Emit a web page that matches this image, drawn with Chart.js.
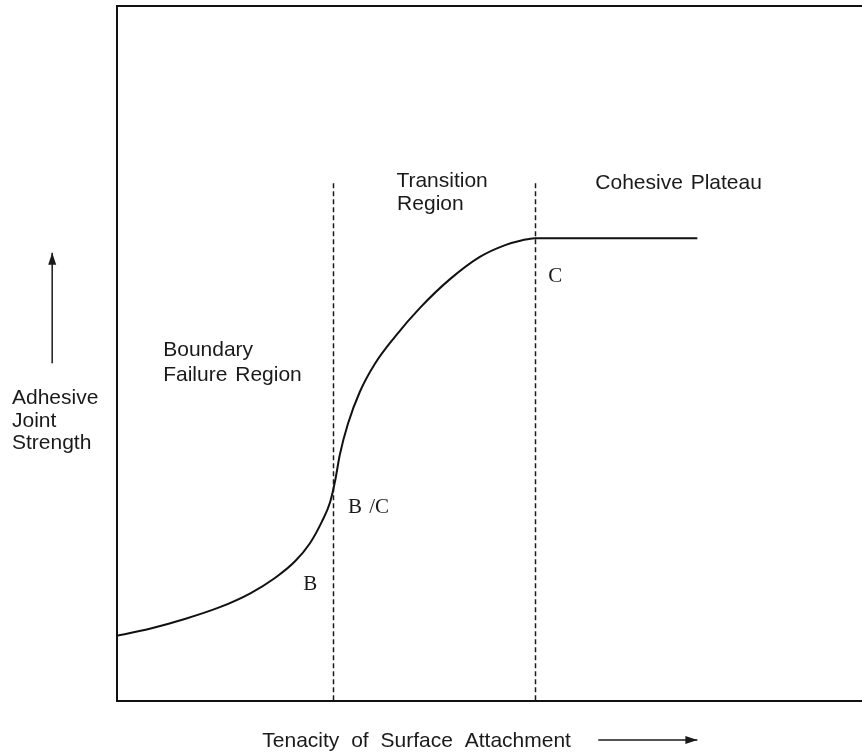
<!DOCTYPE html>
<html>
<head>
<meta charset="utf-8">
<script src="https://cdn.jsdelivr.net/npm/chart.js@4"></script>
<style>
  html, body { margin: 0; padding: 0; background: #fff; overflow: hidden; }
  #wrap { width: 862px; height: 752px; }
</style>
</head>
<body>
<div id="wrap"><canvas id="chart" width="862" height="752"></canvas></div>
<script>
// curve: tenacity (x) vs adhesive joint strength (y), arbitrary units 0..10
const tenacity = [0, 0.44, 0.91, 1.38, 1.79, 2.12, 2.39, 2.59, 2.75, 2.86, 2.93, 2.99, 3.10, 3.26, 3.46, 3.73, 4.07, 4.47, 4.87, 5.21, 5.44, 5.61, 6.48, 7.79];
const strength = [0.94, 1.04, 1.18, 1.35, 1.55, 1.77, 2.01, 2.27, 2.58, 2.86, 3.18, 3.54, 3.99, 4.45, 4.85, 5.24, 5.66, 6.07, 6.39, 6.56, 6.63, 6.66, 6.66, 6.66];

// region boundaries (dashed) and how high they reach
const boundaries = [2.90, 5.61];
const boundaryTop = 7.45;

const sans = '"Liberation Sans", Arial, Helvetica, sans-serif';
const serif = '"Liberation Serif", "Times New Roman", serif';

// text labels, placed in data units
const labels = [
    { text: 'Boundary', x: 0.62, y: 5.05, font: sans },
    { text: 'Failure Region', x: 0.62, y: 4.69, font: sans },
    { text: 'Transition', x: 3.75, y: 7.48, font: sans },
    { text: 'Region', x: 3.76, y: 7.15, font: sans },
    { text: 'Cohesive Plateau', x: 6.42, y: 7.45, font: sans },
    { text: 'C', x: 5.79, y: 6.11, font: serif },
    { text: 'B /C', x: 3.10, y: 2.79, font: serif },
    { text: 'B', x: 2.50, y: 1.68, font: serif },
    { text: 'Adhesive', x: -1.41, y: 4.35, font: sans },
    { text: 'Joint', x: -1.41, y: 4.02, font: sans },
    { text: 'Strength', x: -1.41, y: 3.71, font: sans },
    { text: 'Tenacity of Surface Attachment', x: 1.95, y: -0.58, font: sans }
];

const points = tenacity.map((x, i) => ({ x: x, y: strength[i] }));

function arrow(ctx, x1, y1, x2, y2) {
    const a = Math.atan2(y2 - y1, x2 - x1);
    ctx.beginPath();
    ctx.moveTo(x1, y1);
    ctx.lineTo(x2, y2);
    ctx.stroke();
    ctx.beginPath();
    ctx.moveTo(x2, y2);
    ctx.lineTo(x2 - 12 * Math.cos(a) + 4 * Math.sin(a), y2 - 12 * Math.sin(a) - 4 * Math.cos(a));
    ctx.lineTo(x2 - 12 * Math.cos(a) - 4 * Math.sin(a), y2 - 12 * Math.sin(a) + 4 * Math.cos(a));
    ctx.closePath();
    ctx.fill();
}

const annotations = {
    id: 'annotations',
    beforeDatasetsDraw(chart) {
        const { ctx, scales: { x, y } } = chart;
        ctx.save();
        ctx.strokeStyle = '#1a1a1a';
        ctx.lineWidth = 1.5;
        ctx.setLineDash([5, 3]);
        boundaries.forEach(b => {
            const px = Math.round(x.getPixelForValue(b)) + 0.5;
            ctx.beginPath();
            ctx.moveTo(px, y.getPixelForValue(boundaryTop));
            ctx.lineTo(px, y.getPixelForValue(0));
            ctx.stroke();
        });
        ctx.restore();
    },
    afterDraw(chart) {
        const { ctx, scales: { x, y } } = chart;
        ctx.save();
        ctx.fillStyle = '#1a1a1a';
        ctx.strokeStyle = '#1a1a1a';
        ctx.textBaseline = 'middle';
        ctx.textAlign = 'left';
        labels.forEach(l => {
            ctx.font = '21px ' + l.font;
            if ('wordSpacing' in ctx) ctx.wordSpacing = l.text.startsWith('Tenacity') ? '6px' : '2px';
            ctx.fillText(l.text, x.getPixelForValue(l.x), y.getPixelForValue(l.y));
        });
        // axis arrows
        ctx.lineWidth = 1.5;
        arrow(ctx, x.getPixelForValue(-0.87), y.getPixelForValue(4.86), x.getPixelForValue(-0.87), y.getPixelForValue(6.45));
        arrow(ctx, x.getPixelForValue(6.46), y.getPixelForValue(-0.56), x.getPixelForValue(7.79), y.getPixelForValue(-0.56));
        ctx.restore();
    }
};

new Chart(document.getElementById('chart'), {
    type: 'line',
    data: {
        datasets: [{
            data: points,
            borderColor: '#111',
            borderWidth: 2,
            pointRadius: 0,
            fill: false,
            cubicInterpolationMode: 'monotone'
        }]
    },
    options: {
        responsive: false,
        animation: false,
        events: [],
        layout: { padding: 0 },
        plugins: { legend: { display: false }, tooltip: { enabled: false } },
        scales: {
            x: {
                type: 'linear', min: 0, max: 10,
                grid: { display: false },
                ticks: { display: false },
                border: { color: '#111', width: 2 },
                afterFit(s) { s.height = 51; }
            },
            xTop: {
                type: 'linear', position: 'top', min: 0, max: 10,
                grid: { display: false },
                ticks: { display: false },
                border: { color: '#111', width: 2 },
                afterFit(s) { s.height = 6; }
            },
            y: {
                type: 'linear', min: 0, max: 10,
                grid: { display: false },
                ticks: { display: false },
                border: { color: '#111', width: 2 },
                afterFit(s) { s.width = 117; }
            }
        }
    },
    plugins: [annotations]
});
</script>
</body>
</html>
